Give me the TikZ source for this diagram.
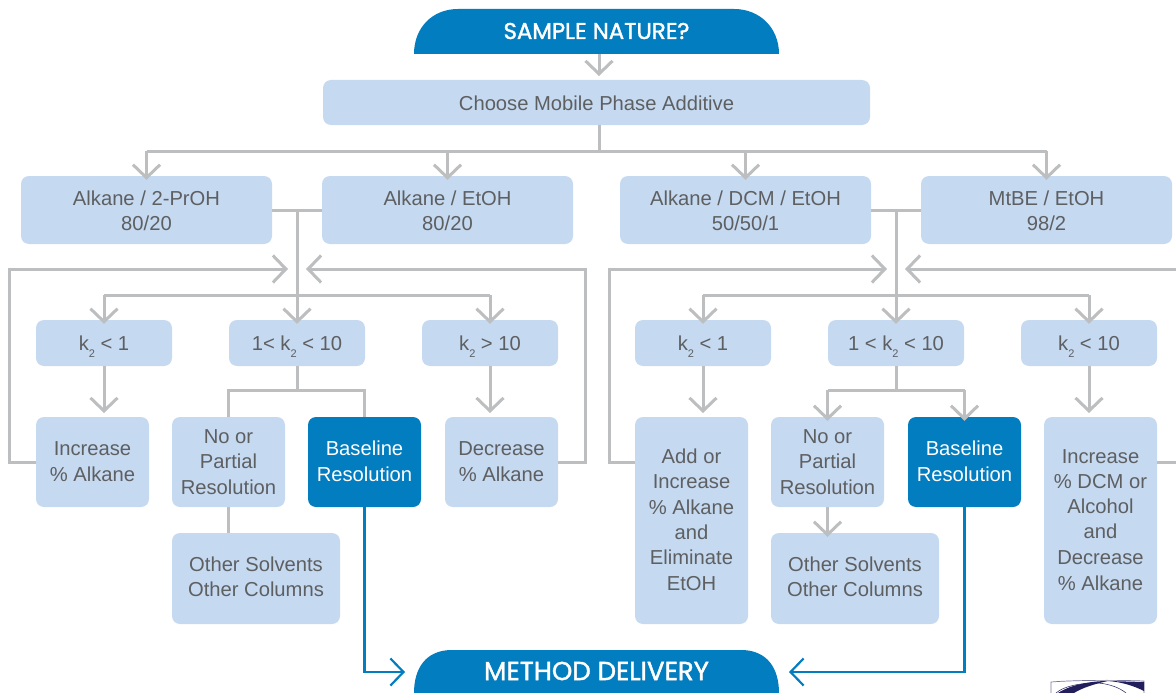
\documentclass[tikz,border=0pt]{standalone}
\usepackage{fontspec}
\usetikzlibrary{arrows.meta,calc}
\setmainfont{Liberation Sans}
\newfontfamily\headfont[RawFeature={embolden=1.6}]{Poppins}
\definecolor{boxblue}{HTML}{C5D9F1}
\definecolor{deepblue}{HTML}{027DBF}
\definecolor{linegray}{HTML}{BCBEC0}
\definecolor{textgray}{HTML}{5E5F61}
\definecolor{logonavy}{HTML}{221E5C}
\newcommand{\ktwo}{k\smash{\raisebox{-0.38em}{\fontsize{11}{11}\selectfont 2}}}
\newcommand{\shiftln}[2]{\raisebox{#1pt}[\height][\depth]{#2}}
\tikzset{
  x=1pt,y=-1pt,
  boxn/.style={fill=boxblue,rounded corners=8pt,inner sep=0pt,align=center,text=textgray,
    font=\fontsize{20.2}{25.2}\selectfont},
  boxd/.style={boxn,fill=deepblue,text=white},
  headn/.style={inner sep=0pt,text=white,font=\headfont\fontsize{22.8}{25}\selectfont},
  conn/.style={draw=linegray,line width=3pt},
  arr/.style={conn,-{Straight Barb[length=13pt,width=27pt,line width=3pt]}},
  bconn/.style={draw=deepblue,line width=2.2pt},
  barr/.style={bconn,-{Straight Barb[length=13pt,width=27pt,line width=2.2pt]}},
}
\newcommand{\bx}[7][boxn]{% style, name, x1, y1, x2, y2, text
  \node[#1,minimum width=#5pt-#3pt,minimum height=#6pt-#4pt] (#2) at ({(#3+#5)/2},{(#4+#6)/2}) {#7};}
\begin{document}
\begin{tikzpicture}
\useasboundingbox (0,0) rectangle (1176,693);
% head shapes
\fill[deepblue] (414,54) .. controls (414,28) and (432,9) .. (458,9) -- (734,9) .. controls (760,9) and (779,28) .. (779,54) -- cycle;
\begin{scope}
\clip (0,0) rectangle (1176,693);
\fill[deepblue] (414,693) .. controls (414,668) and (426,650) .. (452,650) -- (741,650) .. controls (767,650) and (779,668) .. (779,693) -- cycle;
\end{scope}
\node[headn] (sample) at (596.5,31) {SAMPLE NATURE?};
\node[headn,font=\headfont\fontsize{26}{25}\selectfont] (delivery) at (596.5,671) {METHOD DELIVERY};
\bx{choose}{323}{80}{870}{125}{\shiftln{-1}{Choose Mobile Phase Additive}}
\bx{a}{21}{176}{272}{244}{\shiftln{-1}{Alkane / 2-PrOH}\\\shiftln{-1}{80/20}}
\bx{b}{322}{176}{573}{244}{\shiftln{-1}{Alkane / EtOH}\\\shiftln{-1}{80/20}}
\bx{c}{620}{176}{871}{244}{\shiftln{-1}{Alkane / DCM / EtOH}\\\shiftln{-1}{50/50/1}}
\bx{d}{921}{176}{1172}{244}{\shiftln{-1}{MtBE / EtOH}\\\shiftln{-1}{98/2}}
% left tree
\bx{k1}{36}{320}{172}{366}{\ktwo{} < 1}
\bx{k2}{229}{320}{365}{366}{1< \ktwo{} < 10}
\bx{k3}{422}{320}{558}{366}{\ktwo{} > 10}
\bx{inc}{36}{417}{149}{507}{\shiftln{1}{Increase}\\\% Alkane}
\bx{nop}{172}{417}{285}{507}{No or\\Partial\\Resolution}
\bx[boxd]{base}{308}{417}{421}{507}{\shiftln{1}{Baseline}\\Resolution}
\bx{dec}{445}{417}{558}{507}{\shiftln{1}{Decrease}\\\% Alkane}
\bx{oth}{172}{533}{340}{624}{\shiftln{2}{Other Solvents}\\\shiftln{2}{Other Columns}}
% right tree
\bx{rk1}{635}{320}{771}{366}{\ktwo{} < 1}
\bx{rk2}{828}{320}{964}{366}{1 < \ktwo{} < 10}
\bx{rk3}{1021}{320}{1157}{366}{\ktwo{} < 10}
\bx{radd}{635}{417}{748}{624}{\shiftln{1}{Add or}\\\shiftln{1}{Increase}\\\shiftln{1}{\% Alkane}\\\shiftln{1}{and}\\\shiftln{1}{Eliminate}\\EtOH}
\bx{rnop}{771}{417}{884}{507}{No or\\Partial\\Resolution}
\bx[boxd]{rbase}{908}{417}{1021}{507}{\shiftln{1}{Baseline}\\Resolution}
\bx{rinc}{1044}{417}{1157}{624}{\shiftln{1}{Increase}\\\shiftln{1}{\% DCM or}\\\shiftln{1}{Alcohol}\\\shiftln{1}{and}\\\shiftln{1}{Decrease}\\\% Alkane}
\bx{roth}{771}{533}{939}{624}{\shiftln{2}{Other Solvents}\\\shiftln{2}{Other Columns}}
% helper coordinates
\coordinate (topbus) at (599,151);
\coordinate (lj) at (297,210);
\coordinate (rj) at (896,210);
\coordinate (ltgt1) at (288,269);
\coordinate (ltgt2) at (306,269);
\coordinate (rtgt1) at (887,269);
\coordinate (rtgt2) at (905,269);
\coordinate (redgeA) at (1176,462);
\coordinate (redgeB) at (1176,269);
% top connectors
\draw[arr] (599,54) -- (599,76);
\draw[conn] (choose.south -| topbus) -- (topbus);
\draw[conn] (a.north |- topbus) -- (d.north |- topbus);
\draw[arr] (a.north |- topbus) -- ([yshift=-4pt]a.north);
\draw[arr] (b.north |- topbus) -- ([yshift=-4pt]b.north);
\draw[arr] (c.north |- topbus) -- ([yshift=-4pt]c.north);
\draw[arr] (d.north |- topbus) -- ([yshift=-4pt]d.north);
% left
\draw[conn] (a.east |- lj) -- (b.west |- lj);
\draw[arr] (lj) -- ([yshift=-4pt]k2.north);
\draw[conn] (k1.north |- 0,295) -- (k3.north |- 0,295);
\draw[arr] (k1.north |- 0,295) -- ([yshift=-4pt]k1.north);
\draw[arr] (k3.north |- 0,295) -- ([yshift=-4pt]k3.north);
\draw[arr] (inc.west |- 0,462) -- (9,462) -- (9,269) -- (ltgt1);
\draw[arr] (dec.east |- 0,462) -- (585,462) -- (585,269) -- (ltgt2);
\draw[arr] (k1.south) -- (k1.south |- 0,413);
\draw[arr] (k3.south) -- (k3.south |- 0,413);
\draw[conn] (k2.south) -- (k2.south |- 0,390);
\draw[conn] (nop.north) -- (nop.north |- 0,390) -- (base.north |- 0,390) -- (base.north);
\draw[conn] (nop.south) -- (nop.south |- oth.north);
\draw[barr] (base.south) -- (base.south |- 0,672) -- (405,672);
% right
\draw[conn] (c.east |- rj) -- (d.west |- rj);
\draw[arr] (rj) -- ([yshift=-4pt]rk2.north);
\draw[conn] (rk1.north |- 0,295) -- (rk3.north |- 0,295);
\draw[arr] (rk1.north |- 0,295) -- ([yshift=-4pt]rk1.north);
\draw[arr] (rk3.north |- 0,295) -- ([yshift=-4pt]rk3.north);
\draw[arr] (radd.west |- 0,462) -- (609,462) -- (609,269) -- (rtgt1);
\draw[conn] (rinc.east |- 0,462) -- (redgeA);
\draw[arr] (redgeB) -- (rtgt2);
\draw[arr] (rk1.south) -- (rk1.south |- 0,413);
\draw[arr] (rk3.south) -- (rk3.south |- 0,413);
\draw[conn] (rk2.south) -- (rk2.south |- 0,390);
\draw[conn] (rnop.north |- 0,390) -- (rbase.north |- 0,390);
\draw[arr] (rnop.north |- 0,390) -- ([yshift=-4pt]rnop.north);
\draw[arr] (rbase.north |- 0,390) -- ([yshift=-4pt]rbase.north);
\draw[arr] (rnop.south) -- ([yshift=-4pt]rnop.south |- roth.north);
\draw[barr] (rbase.south) -- (rbase.south |- 0,672) -- (789,672);
% logo fragment
\begin{scope}
\clip (1040,670) rectangle (1176,693);
\draw[logonavy!60,line width=0.7pt] (1051,693) -- (1051,682) .. controls (1075,680) and (1120,680) .. (1144,681) -- (1144,693);
\fill[logonavy] (1058,693) .. controls (1070,685) and (1090,681) .. (1108,681) .. controls (1094,684) and (1082,688) .. (1074,693) -- cycle;
\fill[logonavy] (1108,681) -- (1144,682) -- (1144,691) .. controls (1134,686) and (1122,682) .. (1108,681) -- cycle;
\draw[logonavy,line width=0.5pt] (1056,693) .. controls (1064,686) and (1080,683) .. (1098,683) .. controls (1110,684) and (1120,688) .. (1126,693);
\end{scope}
\end{tikzpicture}
\end{document}
